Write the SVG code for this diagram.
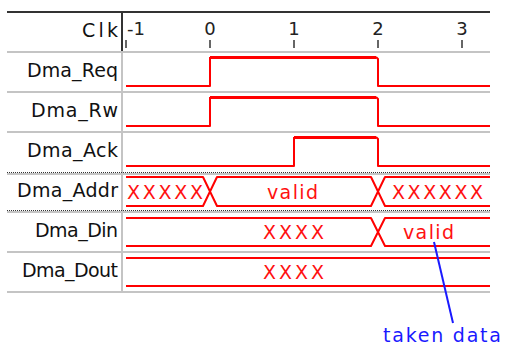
<svg xmlns="http://www.w3.org/2000/svg" width="506" height="345" viewBox="0 0 506 345">
  <style>
    .lbl { font-family: "DejaVu Sans", Verdana, sans-serif; font-size: 19px; fill: #111; text-anchor: end; }
    .tick { font-family: "DejaVu Sans", Verdana, sans-serif; font-size: 18px; fill: #222; text-anchor: middle; }
    .bustxt { font-family: "DejaVu Sans", Verdana, sans-serif; font-size: 19px; fill: #ff1010; }
    .note { font-family: "DejaVu Sans", Verdana, sans-serif; font-size: 19px; fill: #1a1aff; }
    .sep { stroke: #c4c4c4; stroke-width: 2; fill: none; }
    .dots { stroke: #333; stroke-width: 1; stroke-dasharray: 1 1; fill: none; }
    .sig { stroke: #ff0000; stroke-width: 2; fill: none; stroke-linejoin: round; }
    .hi { stroke: #ff0000; stroke-width: 3; fill: none; }
    .bus { stroke: #ff0000; stroke-width: 2; fill: none; stroke-linejoin: round; }
    .axis { stroke: #333; stroke-width: 2; fill: none; }
  </style>

  <!-- grid: header rule, column divider, row separators -->
  <g id="grid">
    <line class="axis" x1="7" y1="12" x2="490" y2="12"/>
    <line class="axis" x1="122" y1="12" x2="122" y2="52"/>
    <line class="sep" x1="122" y1="52" x2="122" y2="292"/>
    <line class="sep" x1="7" y1="52" x2="490" y2="52"/>
    <line class="sep" x1="7" y1="92" x2="490" y2="92"/>
    <line class="sep" x1="7" y1="132" x2="490" y2="132"/>
    <line class="sep" x1="7" y1="174" x2="490" y2="174"/>
    <line class="dots" x1="7" y1="172.5" x2="490" y2="172.5"/>
    <line class="sep" x1="7" y1="212" x2="490" y2="212"/>
    <line class="dots" x1="7" y1="210.5" x2="490" y2="210.5"/>
    <line class="sep" x1="7" y1="252" x2="490" y2="252"/>
    <line class="sep" x1="7" y1="292" x2="490" y2="292"/>
  </g>

  <!-- clock / time axis -->
  <g id="clk">
    <text class="lbl" x="118" y="37" textLength="36" lengthAdjust="spacing">Clk</text>
    <text class="tick" x="127" y="35" style="text-anchor:start">-1</text>
    <text class="tick" x="210" y="35">0</text>
    <text class="tick" x="294" y="35">1</text>
    <text class="tick" x="378" y="35">2</text>
    <text class="tick" x="462" y="35">3</text>
    <g stroke="#333" stroke-width="1.5">
      <line x1="126" y1="40" x2="126" y2="48"/>
      <line x1="210" y1="40" x2="210" y2="48"/>
      <line x1="294" y1="40" x2="294" y2="48"/>
      <line x1="378" y1="40" x2="378" y2="48"/>
      <line x1="462" y1="40" x2="462" y2="48"/>
    </g>
  </g>

  <g id="dma_req">
    <text class="lbl" x="118" y="77" textLength="91" lengthAdjust="spacing">Dma_Req</text>
    <polyline class="sig" points="126,86 210,86 210,57"/>
    <line class="hi" x1="210" y1="57.5" x2="376" y2="57.5"/>
    <polyline class="sig" points="376,57 378,59 378,86 490,86"/>
  </g>

  <g id="dma_rw">
    <text class="lbl" x="118" y="117" textLength="87" lengthAdjust="spacing">Dma_Rw</text>
    <polyline class="sig" points="126,126 210,126 210,97"/>
    <line class="hi" x1="210" y1="97.5" x2="376" y2="97.5"/>
    <polyline class="sig" points="376,97 378,99 378,126 490,126"/>
  </g>

  <g id="dma_ack">
    <text class="lbl" x="118" y="157" textLength="91" lengthAdjust="spacing">Dma_Ack</text>
    <polyline class="sig" points="126,166 294,166 294,137"/>
    <line class="hi" x1="294" y1="137.5" x2="376" y2="137.5"/>
    <polyline class="sig" points="376,137 378,139 378,166 490,166"/>
  </g>

  <g id="dma_addr">
    <text class="lbl" x="118" y="197" textLength="101" lengthAdjust="spacing">Dma_Addr</text>
    <path class="bus" d="M126,177 H203 L210,191.5 L217,177 H371 L378,191.5 L385,177 H490
                         M126,206 H203 L210,191.5 L217,206 H371 L378,191.5 L385,206 H490"/>
    <text class="bustxt" x="127" y="199" textLength="76" lengthAdjust="spacing">XXXXX</text>
    <text class="bustxt" x="267" y="199" textLength="51" lengthAdjust="spacing">valid</text>
    <text class="bustxt" x="392" y="199" textLength="91" lengthAdjust="spacing">XXXXXX</text>
  </g>

  <g id="dma_din">
    <text class="lbl" x="118" y="237" textLength="83" lengthAdjust="spacing">Dma_Din</text>
    <path class="bus" d="M126,218 H371 L378,232 L385,218 H490
                         M126,246 H371 L378,232 L385,246 H490"/>
    <text class="bustxt" x="263" y="239" textLength="61" lengthAdjust="spacing">XXXX</text>
    <text class="bustxt" x="403" y="239" textLength="51" lengthAdjust="spacing">valid</text>
  </g>

  <g id="dma_dout">
    <text class="lbl" x="118" y="277" textLength="96" lengthAdjust="spacing">Dma_Dout</text>
    <path class="bus" d="M126,258 H490 M126,286 H490"/>
    <text class="bustxt" x="263" y="279" textLength="61" lengthAdjust="spacing">XXXX</text>
  </g>

  <g id="taken_data">
    <text class="note" x="383" y="342" textLength="118" lengthAdjust="spacing">taken data</text>
  </g>

  <!-- pointer from the label to the sampled data -->
  <g id="connectors">
    <line x1="434" y1="242" x2="453" y2="323" stroke="#1a1aff" stroke-width="2"/>
  </g>
</svg>
